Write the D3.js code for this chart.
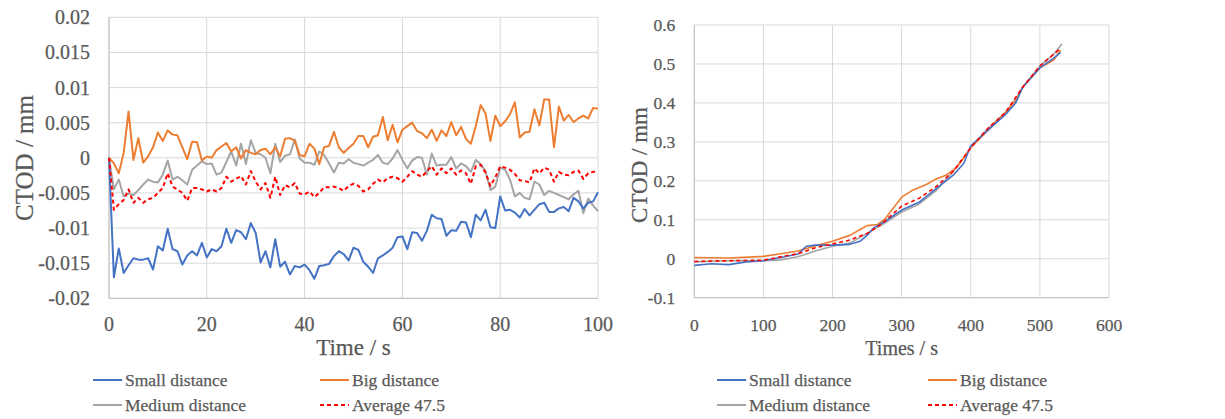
<!DOCTYPE html>
<html>
<head>
<meta charset="utf-8">
<script src="https://cdn.jsdelivr.net/npm/d3@7"></script>
<style>
  body { margin: 0; background: #fff; }
  svg { display: block; }
  text { font-family: "Liberation Serif", "Times New Roman", serif; fill: #595959; stroke: #595959; stroke-width: 0.25px; }
</style>
</head>
<body>
<svg id="chart" width="1225" height="419" font-family="Liberation Serif, serif"></svg>
<script>
// ---- left panel: first 100 s, one reading per second (mm) ----
const timeShort = d3.range(0, 101);
const smallShort = [0,-0.0170,-0.0129,-0.0164,-0.0153,-0.0143,-0.0145,-0.0145,-0.0143,-0.0159,
  -0.0126,-0.0132,-0.0101,-0.0130,-0.0133,-0.0152,-0.0139,-0.0133,-0.0139,-0.0121,
  -0.0142,-0.0130,-0.0133,-0.0126,-0.0101,-0.0121,-0.0103,-0.0106,-0.0116,-0.0093,
  -0.0107,-0.0149,-0.0133,-0.0156,-0.0116,-0.0155,-0.0148,-0.0166,-0.0154,-0.0156,
  -0.0152,-0.0160,-0.0172,-0.0154,-0.0153,-0.0151,-0.0140,-0.0133,-0.0137,-0.0146,
  -0.0128,-0.0131,-0.0148,-0.0155,-0.0164,-0.0143,-0.0139,-0.0134,-0.0128,-0.0113,
  -0.0112,-0.0130,-0.0106,-0.0107,-0.0118,-0.0104,-0.0081,-0.0086,-0.0087,-0.0111,
  -0.0103,-0.0104,-0.0091,-0.0092,-0.0113,-0.0081,-0.0089,-0.0074,-0.0099,-0.0100,
  -0.0055,-0.0075,-0.0074,-0.0078,-0.0085,-0.0073,-0.0082,-0.0074,-0.0066,-0.0064,
  -0.0077,-0.0077,-0.0072,-0.0070,-0.0076,-0.0057,-0.0062,-0.0072,-0.0064,-0.0062,-0.0049];
const bigShort = [0,-0.0008,-0.0022,0.0007,0.0066,-0.0003,0.0028,-0.0007,0.0002,0.0015,
  0.0036,0.0024,0.0039,0.0033,0.0032,0.0015,-0.0002,0.0023,0.0022,-0.0004,
  0.0002,0.0000,0.0011,0.0016,0.0021,0.0009,0.0015,-0.0001,0.0011,0.0007,
  0.0005,0.0011,0.0013,0.0005,0.0015,0.0002,0.0027,0.0028,0.0024,0.0004,
  0.0002,0.0020,0.0013,-0.0009,0.0015,0.0017,0.0037,0.0015,0.0007,0.0014,
  0.0020,0.0031,0.0031,0.0015,0.0030,0.0032,0.0058,0.0025,0.0047,0.0022,
  0.0040,0.0045,0.0050,0.0038,0.0035,0.0028,0.0040,0.0024,0.0039,0.0031,
  0.0051,0.0032,0.0044,0.0027,0.0020,0.0045,0.0075,0.0063,0.0024,0.0060,
  0.0045,0.0052,0.0062,0.0079,0.0029,0.0036,0.0037,0.0069,0.0046,0.0083,
  0.0083,0.0015,0.0073,0.0053,0.0061,0.0051,0.0056,0.0060,0.0056,0.0071,0.0070];
const mediumShort = [0,-0.0045,-0.0031,-0.0055,-0.0051,-0.0053,-0.0046,-0.0038,-0.0031,-0.0034,
  -0.0035,-0.0024,-0.0004,-0.0031,-0.0027,-0.0032,-0.0038,-0.0017,-0.0011,-0.0005,
  -0.0009,-0.0008,-0.0024,-0.0021,-0.0006,0.0009,-0.0011,0.0020,-0.0009,0.0025,
  0.0007,0.0005,0.0000,-0.0022,0.0020,-0.0006,0.0003,0.0005,0.0026,-0.0001,
  -0.0007,-0.0007,-0.0010,0.0009,0.0004,-0.0008,-0.0021,-0.0007,-0.0008,-0.0002,
  -0.0007,-0.0009,-0.0011,-0.0007,-0.0003,0.0004,-0.0007,-0.0009,-0.0001,0.0011,
  -0.0003,-0.0015,-0.0004,0.0001,0.0000,-0.0024,0.0006,-0.0011,-0.0010,-0.0010,
  0.0001,-0.0015,-0.0008,-0.0012,-0.0020,-0.0003,-0.0009,-0.0019,-0.0046,-0.0041,
  -0.0014,-0.0017,-0.0031,-0.0055,-0.0050,-0.0057,-0.0059,-0.0034,-0.0038,-0.0053,
  -0.0047,-0.0050,-0.0053,-0.0056,-0.0059,-0.0052,-0.0047,-0.0079,-0.0058,-0.0068,-0.0076];
const avgShort = [0,-0.0074,-0.0066,-0.0060,-0.0045,-0.0064,-0.0057,-0.0064,-0.0059,-0.0057,
  -0.0050,-0.0043,-0.0022,-0.0041,-0.0045,-0.0050,-0.0061,-0.0043,-0.0043,-0.0045,
  -0.0048,-0.0045,-0.0048,-0.0043,-0.0027,-0.0034,-0.0030,-0.0026,-0.0038,-0.0019,
  -0.0034,-0.0045,-0.0036,-0.0057,-0.0027,-0.0053,-0.0039,-0.0042,-0.0036,-0.0051,
  -0.0052,-0.0048,-0.0056,-0.0050,-0.0042,-0.0042,-0.0041,-0.0043,-0.0047,-0.0040,
  -0.0037,-0.0040,-0.0048,-0.0045,-0.0037,-0.0031,-0.0035,-0.0029,-0.0027,-0.0029,
  -0.0034,-0.0027,-0.0019,-0.0024,-0.0027,-0.0019,-0.0012,-0.0024,-0.0015,-0.0022,
  -0.0015,-0.0024,-0.0018,-0.0022,-0.0037,-0.0012,-0.0010,-0.0021,-0.0040,-0.0028,
  -0.0012,-0.0014,-0.0017,-0.0023,-0.0032,-0.0033,-0.0035,-0.0015,-0.0022,-0.0014,
  -0.0017,-0.0034,-0.0020,-0.0024,-0.0025,-0.0020,-0.0018,-0.0030,-0.0022,-0.0020,-0.0020];

// ---- right panel: whole test (mm) ----
const timeSmallLong = [0,25,50,75,100,125,150,162,175,200,225,240,250,260,275,300,325,350,375,390,400,425,450,465,475,500,520,530];
const smallLong = [-0.017,-0.013,-0.015,-0.008,-0.005,0.003,0.012,0.032,0.035,0.035,0.037,0.045,0.060,0.080,0.095,0.125,0.145,0.180,0.215,0.245,0.290,0.330,0.370,0.400,0.440,0.490,0.515,0.530];
const timeBigLong = [0,50,100,125,150,175,200,225,240,250,265,275,290,300,315,335,350,365,380,400,425,450,465,475,500,520,530];
const bigLong = [0.003,0.002,0.006,0.013,0.020,0.033,0.045,0.060,0.075,0.085,0.088,0.100,0.135,0.158,0.175,0.190,0.205,0.215,0.235,0.285,0.330,0.375,0.405,0.440,0.490,0.510,0.535];
const timeMediumLong = [0,50,100,125,150,175,200,225,250,270,300,325,350,375,390,400,425,450,465,475,500,520,532];
const mediumLong = [-0.008,-0.005,-0.005,-0.003,0.005,0.020,0.032,0.040,0.065,0.085,0.120,0.140,0.175,0.225,0.260,0.285,0.335,0.375,0.410,0.440,0.495,0.525,0.552];
const timeAvgLong = [0,50,100,125,150,175,200,225,250,270,300,325,350,375,400,425,450,475,500,530];
const avgLong = [-0.007,-0.005,-0.004,0.005,0.013,0.028,0.038,0.048,0.065,0.088,0.135,0.155,0.185,0.225,0.285,0.335,0.375,0.440,0.495,0.540];

const leftYTicks = [-0.02,-0.015,-0.01,-0.005,0,0.005,0.01,0.015,0.02];
const leftXTicks = [0,20,40,60,80,100];
const rightYTicks = [-0.1,0,0.1,0.2,0.3,0.4,0.5,0.6];
const rightXTicks = [0,100,200,300,400,500,600];
const legendNames = ["Small distance","Big distance","Medium distance","Average 47.5"];

const colors = ["#4472C4", "#ED7D31", "#A5A5A5", "#FF0000"];

const svg = d3.select("#chart");

function panel(opt) {
  const x = d3.scaleLinear().domain(opt.xDomain).range([opt.left, opt.right]);
  const y = d3.scaleLinear().domain(opt.yDomain).range([opt.bottom, opt.top]);
  const g = svg.append("g");

  // gridlines
  g.append("g").selectAll("line").data(opt.yTicks).join("line")
    .attr("x1", opt.left).attr("x2", opt.right)
    .attr("y1", (d) => y(d)).attr("y2", (d) => y(d))
    .attr("stroke", "#D9D9D9").attr("stroke-width", 1);
  g.append("g").selectAll("line").data(opt.xTicks).join("line")
    .attr("y1", opt.top).attr("y2", opt.bottom)
    .attr("x1", (d) => x(d)).attr("x2", (d) => x(d))
    .attr("stroke", "#D9D9D9").attr("stroke-width", 1);
  // axis lines
  g.append("line").attr("x1", opt.left).attr("x2", opt.left)
    .attr("y1", opt.top).attr("y2", opt.bottom).attr("stroke", "#BFBFBF");
  g.append("line").attr("x1", opt.left).attr("x2", opt.right)
    .attr("y1", opt.bottom).attr("y2", opt.bottom).attr("stroke", "#BFBFBF");

  // tick labels
  g.append("g").selectAll("text").data(opt.yTicks).join("text")
    .attr("x", opt.left - 19).attr("y", (d) => y(d))
    .attr("dy", "0.35em").attr("text-anchor", "end")
    .attr("font-size", opt.tickSize)
    .text((d) => String(+d.toFixed(3)));
  g.append("g").selectAll("text").data(opt.xTicks).join("text")
    .attr("x", (d) => x(d)).attr("y", opt.bottom + 33)
    .attr("text-anchor", "middle")
    .attr("font-size", opt.tickSize)
    .text((d) => d);

  // axis titles
  g.append("text").attr("x", (opt.left + opt.right) / 2).attr("y", 355)
    .attr("text-anchor", "middle").attr("font-size", opt.xTitleSize)
    .text(opt.xTitle);
  g.append("text")
    .attr("transform", `translate(${opt.yTitleX},${opt.yTitleY}) rotate(-90)`)
    .attr("text-anchor", "middle").attr("font-size", opt.yTitleSize)
    .text("CTOD / mm");

  // series
  const line = d3.line().x((d) => x(d[0])).y((d) => y(d[1]));
  const order = [2, 1, 0, 3];
  order.forEach((i) => {
    const s = opt.series[i];
    g.append("path")
      .datum(d3.zip(s.t, s.v))
      .attr("d", line)
      .attr("fill", "none")
      .attr("stroke", colors[i])
      .attr("stroke-width", opt.lineWidth)
      .attr("stroke-linejoin", "round")
      .attr("stroke-dasharray", i === 3 ? "4,3" : null);
  });

  // legend
  const lg = g.append("g");
  legendNames.forEach((name, i) => {
    const col = i % 2, row = Math.floor(i / 2);
    const lx = opt.legendX[col], ly = 380 + row * 25;
    lg.append("line").attr("x1", lx).attr("x2", lx + 29)
      .attr("y1", ly).attr("y2", ly)
      .attr("stroke", colors[i]).attr("stroke-width", 2)
      .attr("stroke-dasharray", i === 3 ? "4,3" : null);
    lg.append("text").attr("x", lx + 32).attr("y", ly)
      .attr("dy", "0.35em").attr("font-size", 17.5)
      .text(name);
  });
}

panel({
  left: 109, right: 598, top: 17.3, bottom: 298.3,
  xDomain: [0, 100], yDomain: [-0.02, 0.02],
  xTicks: leftXTicks, yTicks: leftYTicks,
  tickSize: 20, xTitleSize: 23, yTitleSize: 25,
  xTitle: "Time / s", yTitleX: 33, yTitleY: 158,
  lineWidth: 2,
  legendX: [93, 320],
  series: [
    { t: timeShort, v: smallShort },
    { t: timeShort, v: bigShort },
    { t: timeShort, v: mediumShort },
    { t: timeShort, v: avgShort },
  ],
});

panel({
  left: 694.3, right: 1109, top: 25, bottom: 297.7,
  xDomain: [0, 600], yDomain: [-0.1, 0.6],
  xTicks: rightXTicks, yTicks: rightYTicks,
  tickSize: 17.5, xTitleSize: 20, yTitleSize: 23,
  xTitle: "Times / s", yTitleX: 647, yTitleY: 165,
  lineWidth: 1.6,
  legendX: [717, 928],
  series: [
    { t: timeSmallLong, v: smallLong },
    { t: timeBigLong, v: bigLong },
    { t: timeMediumLong, v: mediumLong },
    { t: timeAvgLong, v: avgLong },
  ],
});
</script>
</body>
</html>
